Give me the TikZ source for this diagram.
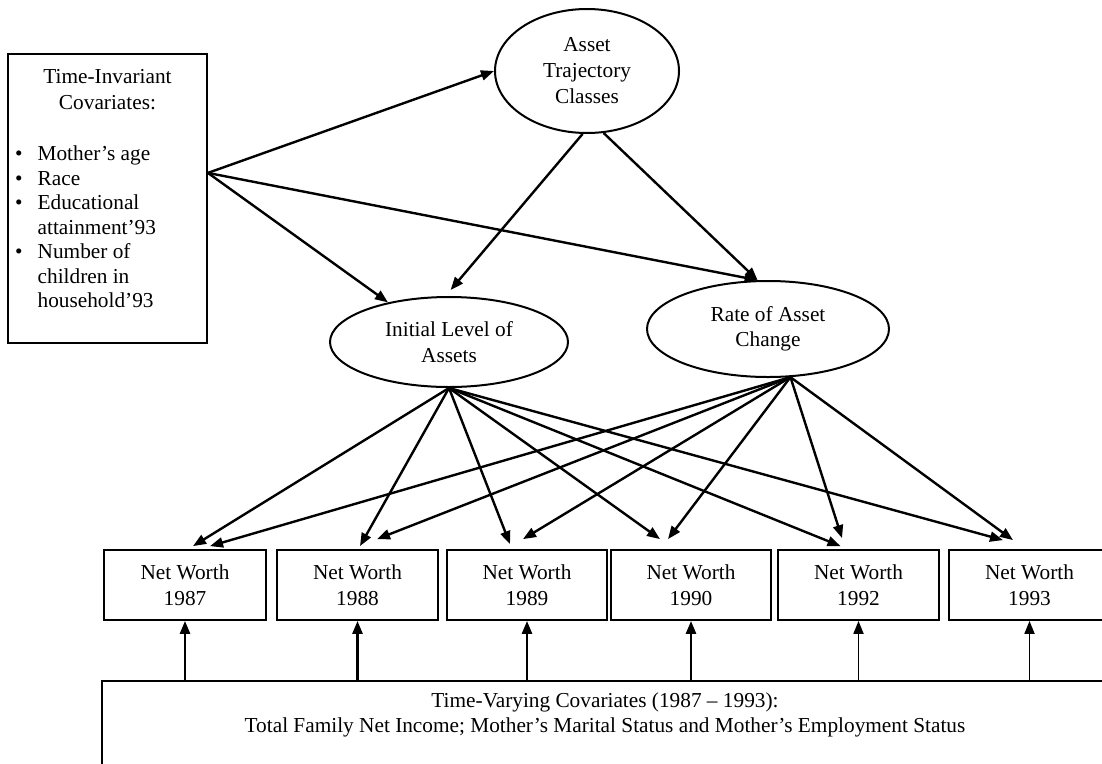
\documentclass[tikz,border=0pt]{standalone}
\usepackage{fontspec}
\setmainfont{Liberation Serif}
\usetikzlibrary{arrows.meta,shapes.geometric,calc}

\begin{document}
\begin{tikzpicture}[x=1pt,y=-1pt,
  txt/.style={font=\fontsize{21.3}{26}\selectfont, align=center},
  box/.style={draw, line width=1.8pt, rectangle, inner sep=0pt},
  oval/.style={draw, line width=2pt, ellipse, inner sep=0pt, txt},
  nwbox/.style={box, txt, minimum width=160pt, minimum height=70pt},
  arr/.style={line width=2.4pt, -{Triangle[length=13pt,width=10pt]}},
  uparr/.style={line width=2.6pt, -{Triangle[length=13pt,width=10pt]}},
]
\useasboundingbox (0,0) rectangle (1102,763);

% time-invariant covariates
\node[box, minimum width=199pt, minimum height=289pt] (inv) at (107.5,198.5) {};
\node[txt] (invhead) at (107.5,90) {Time-Invariant\\Covariates:};
\node[anchor=west, inner sep=0pt, font=\fontsize{21.3}{24.5}\selectfont] (invlist) at (15,229.5)
  {\begin{tabular}{@{}l@{\hspace{15pt}}l@{}}
   \textbullet & Mother’s age\\
   \textbullet & Race\\
   \textbullet & Educational\\
               & attainment’93\\
   \textbullet & Number of\\
               & children in\\
               & household’93
   \end{tabular}};

% latent variables
\node[oval, minimum width=184pt, minimum height=124pt] (atc) at (587,71) {Asset\\Trajectory\\Classes};
\node[oval, minimum width=238pt, minimum height=90pt] (ila) at (449,342) {Initial Level of\\Assets};
\node[oval, minimum width=242pt, minimum height=96pt, font=\fontsize{21.3}{25}\selectfont] (rac) at (768,329) {Rate of Asset\\Change};

% observed net worth
\node[nwbox, minimum width=162pt] (n87) at (185,585) {Net Worth\\1987};
\node[nwbox, minimum width=161pt] (n88) at (357.5,585) {Net Worth\\1988};
\node[nwbox] (n89) at (527,585) {Net Worth\\1989};
\node[nwbox] (n90) at (691,585) {Net Worth\\1990};
\node[nwbox, minimum width=161pt] (n92) at (858.5,585) {Net Worth\\1992};
\node[nwbox, minimum width=161pt] (n93) at (1029.5,585) {Net Worth\\1993};

% time-varying covariates
\node[box, minimum width=1009pt, minimum height=160pt, anchor=north west] (tvc) at (101,680) {};
\node[txt, font=\fontsize{21.3}{25}\selectfont] (tvctext) at (605,715)
  {Time-Varying Covariates (1987 – 1993):\\Total Family Net Income; Mother’s Marital Status and Mother’s Employment Status};

% paths from the covariates and classes
\coordinate (invout) at ($(inv.north east)!0.412!(inv.south east)$);
\draw[arr] (invout) -- (atc.west);
\draw[arr] (invout) -- (ila.147);
\draw[arr] (invout) -- (rac.102);
\draw[arr] (atc.266) -- ([yshift=6pt]ila.88);
\draw[arr] (atc.285) -- (rac.102);

% loadings of the growth factors
\draw[arr] (ila.south) -- ([xshift=8pt,yshift=3pt]n87.north);
\draw[arr] (ila.south) -- ([xshift=2.5pt,yshift=3pt]n88.north);
\draw[arr] (ila.south) -- ([xshift=-17pt,yshift=5pt]n89.north);
\draw[arr] (ila.south) -- ([xshift=-31pt,yshift=10pt]n90.north);
\draw[arr] (ila.south) -- ([xshift=-18pt,yshift=3pt]n92.north);
\draw[arr] (ila.south) -- ([xshift=-26.5pt,yshift=9pt]n93.north);
\draw[arr] (rac.295) -- ([xshift=25pt,yshift=3pt]n87.north);
\draw[arr] (rac.295) -- ([xshift=19.5pt,yshift=10pt]n88.north);
\draw[arr] (rac.295) -- ([xshift=-4pt,yshift=10pt]n89.north);
\draw[arr] (rac.295) -- ([xshift=-23pt,yshift=10pt]n90.north);
\draw[arr] (rac.295) -- ([xshift=-16.5pt,yshift=11pt]n92.north);
\draw[arr] (rac.295) -- ([xshift=-16.5pt,yshift=9pt]n93.north);

% time-varying effects
\foreach \n in {n87,n88,n89,n90}
  \draw[uparr] (tvc.north -| \n.south) -- (\n.south);
\foreach \n in {n92,n93}
  \draw[uparr, line width=1.8pt] (tvc.north -| \n.south) -- (\n.south);
\end{tikzpicture}
\end{document}
